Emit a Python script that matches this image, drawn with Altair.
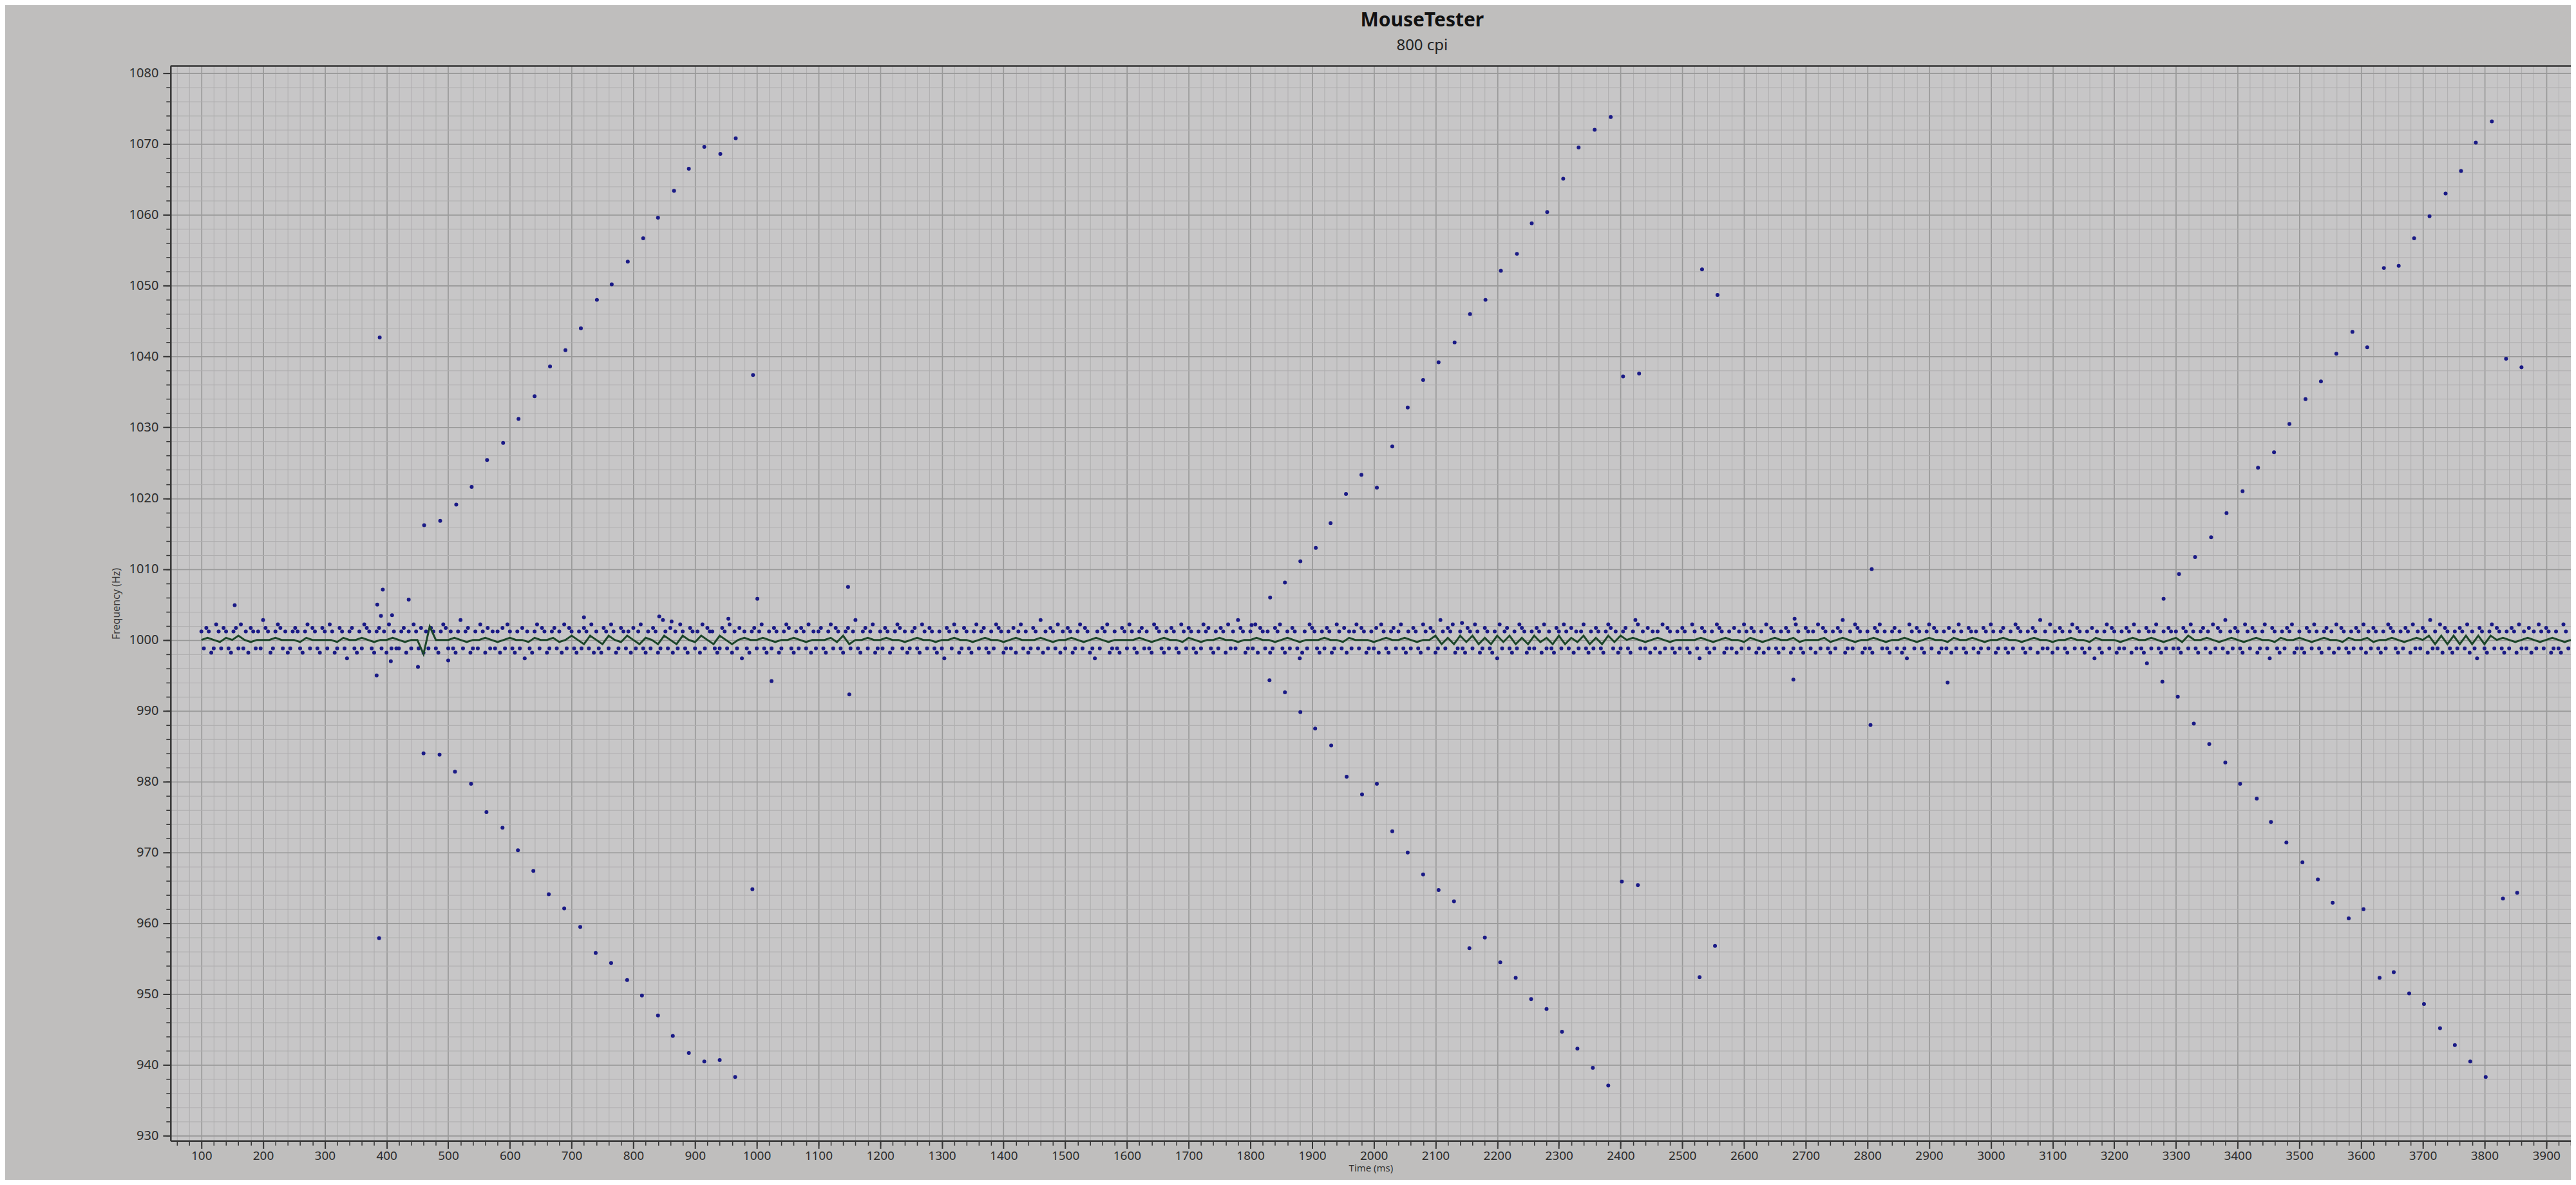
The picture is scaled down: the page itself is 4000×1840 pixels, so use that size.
import altair as alt
import pandas as pd

TITLE = "MouseTester"
SUBTITLE = "800 cpi"
X_TITLE = "Time (ms)"
Y_TITLE = "Frequency (Hz)"

X_DOMAIN = [50, 3940]
Y_DOMAIN = [929.3, 1081]
X_MAJOR = list(range(100, 4000, 100))
X_MINOR = list(range(60, 3941, 20))
Y_MAJOR = list(range(930, 1081, 10))
Y_MINOR = list(range(930, 1081, 2))

# ---- sparse diagonal (aliasing) points ----
left_up_t = [389, 461, 487, 513, 538, 563, 589, 614, 640, 665, 690, 715, 741, 765, 791, 816, 840, 866, 890, 915, 941, 966, 994]
left_up_f = [1042.7, 1016.2, 1016.8, 1019.1, 1021.6, 1025.4, 1027.8, 1031.2, 1034.4, 1038.6, 1040.9, 1044.0, 1048.0, 1050.2,
             1053.4, 1056.7, 1059.6, 1063.4, 1066.5, 1069.6, 1068.6, 1070.8, 1037.4]
left_down_t = [388, 460, 486, 511, 537, 562, 588, 613, 638, 663, 688, 714, 739, 764, 790, 814, 840, 864, 890, 915, 940, 965, 993]
left_down_f = [957.9, 984.0, 983.8, 981.4, 979.7, 975.7, 973.5, 970.3, 967.4, 964.1, 962.1, 959.5, 955.8, 954.4,
               952.0, 949.8, 947.0, 944.1, 941.7, 940.5, 940.7, 938.3, 964.8]

mid_up_t = [1832, 1856, 1881, 1906, 1930, 1955, 1980, 2005, 2030, 2055, 2080, 2105, 2131, 2156, 2181, 2206, 2232, 2256,
            2281, 2307, 2332, 2358, 2384, 2404, 2430, 2532, 2557]
mid_up_f = [1006.0, 1008.1, 1011.1, 1013.0, 1016.5, 1020.6, 1023.3, 1021.5, 1027.3, 1032.8, 1036.7, 1039.2, 1042.0, 1046.0,
            1048.0, 1052.1, 1054.5, 1058.8, 1060.4, 1065.1, 1069.5, 1072.0, 1073.8, 1037.2, 1037.6, 1052.3, 1048.7]
mid_down_t = [1831, 1856, 1881, 1905, 1931, 1956, 1981, 2005, 2030, 2055, 2080, 2105, 2130, 2155, 2180, 2205, 2230, 2255,
              2280, 2305, 2330, 2355, 2380, 2402, 2428, 2528, 2553]
mid_down_f = [994.3, 992.6, 989.8, 987.5, 985.1, 980.7, 978.2, 979.7, 973.0, 970.0, 966.9, 964.7, 963.1, 956.5,
              958.0, 954.5, 952.3, 949.3, 947.9, 944.7, 942.3, 939.6, 937.1, 965.9, 965.4, 952.4, 956.8]

right_up_t = [3280, 3305, 3331, 3357, 3382, 3408, 3433, 3459, 3484, 3510, 3535, 3560, 3586, 3610, 3637, 3661, 3686, 3711,
              3737, 3762, 3786, 3812, 3835, 3860]
right_up_f = [1005.8, 1009.3, 1011.7, 1014.5, 1017.9, 1021.0, 1024.3, 1026.5, 1030.5, 1034.0, 1036.5, 1040.4, 1043.5, 1041.3,
              1052.5, 1052.8, 1056.7, 1059.8, 1063.0, 1066.2, 1070.2, 1073.2, 1039.7, 1038.5]
right_down_t = [3253, 3278, 3303, 3329, 3354, 3380, 3404, 3431, 3454, 3479, 3505, 3530, 3554, 3580, 3604, 3630, 3653, 3678,
                3702, 3728, 3752, 3777, 3802, 3830, 3853]
right_down_f = [996.7, 994.1, 992.0, 988.2, 985.3, 982.7, 979.7, 977.6, 974.3, 971.4, 968.6, 966.2, 962.9, 960.7,
                962.0, 952.3, 953.1, 950.1, 948.6, 945.2, 942.8, 940.5, 938.3, 963.5, 964.3]

# isolated points just outside the main band
outlier_t = [154, 384, 385, 391, 394, 407, 409, 436, 451, 500, 720, 842, 862, 954, 1001, 1024, 1148, 1150,
             1802, 2143, 2680, 2682, 2805, 2807, 2930]
outlier_f = [1004.9, 995.0, 1005.0, 1003.4, 1007.1, 997.0, 1003.5, 1005.7, 996.2, 997.1, 1003.2, 1003.3, 1002.6,
             1003.0, 1005.8, 994.2, 1007.5, 992.3, 1002.1, 1002.4, 994.4, 1003.0, 988.0, 1010.0, 994.0]

# ---- dense band of samples around 1000 Hz (one code per 4 ms) ----
BAND_STEP = 4
BAND_LEVELS = {"a": 997.4, "b": 998.2, "c": 998.8, "d": 1001.2, "e": 1001.7, "f": 1002.2, "g": 1002.8}
band_segments = [
    (100, "dcedbcfdcedcbdecfcdbedcdcgedbcdfecdbcdedcbdfcedcbedcfdbcedcadecbdcfedcbdecdbfcdc"),
    (420, "cdebdcfdcebdcedcbdfecdcbdgcdebcdcfdbecdcdbecfdcbdceadcbdfcedbcdecdbfcedcbdcedcfb"),
    (740, "dcbedcfdbcedcdbecdfcbdcedbcgdcebdcfdcbedcdbfceddcbcedcfbdceadcbdecdfcbdcedbcdfec"),
    (1060, "bdcedcfbdcdecbdfcedcbdecdgcbdecdfbcdcedbcdfecdbcdecbfdcedcbdcaedcfdbcedcbdfcdecb"),
    (1380, "dcfedbcdcebdfcdbcedcgbdcedcfbdcedbcdfcedbcadcedfbcdcbedcfdcbdecdcbfedcbdcedcbfdc"),
    (1700, "edcbdcfdecbdcedbfcdcgedbcdcfbedcdbcedfcbdcedcabdcfedcbdcedbcfdcebdcdfcedbcdcebfd"),
    (2020, "cbdecdfcbdcedcbfdcedbcgdcedfbcdcbedcfdbcedcbdafcdecbdcfedbcdcedbfcdcbedcfdcebdcd"),
    (2340, "fcbdcedcbdfecdbcdecbdgfcdcebdcdbfcedcbdcedcbfdcaedcbdcfedbcdcebdcfdcedbcdbfcedcb"),
    (2660, "dcedbcfdcbedcdbfcedcbdcedgbcdcfedbcdcbedfcdcbdecdbcafdcedcbdfcedbcdcebdcfdcbedcd"),
    (2980, "bcedcfdbcdecbdcfedcbdcedbgcdcfbdcedcbdfcedcbdceadcbdfcedbcdcedbfcdcbedcdfcbdcedc"),
    (3300, "dcbedcfdcbdecdbfcedcgbdcedcbfdcedbcdfcaedcbdcedfbcdcbedcfdcbdecdbfcedcbdcedcfbdc"),
    (3620, "edcbdcfedcbdcedbfcdcedbgcdcfbedcbdcedcfbdcaedcbdfcedcbdcedbfcdcebdcfdcedbcdcbfdc"),
]

# ---- green running line (one code per 10 ms) ----
LINE_STEP = 10
LINE_LEVELS = {"8": 998.0, "0": 999.0, "1": 999.4, "2": 999.7, "3": 1000.0, "4": 1000.3,
               "5": 1000.6, "6": 1001.0, "7": 1001.9}
line_segments = [
    (100, "3432435323" "3343332433" "3324334323" "3432338733"),
    (500, "34323343234332433423"),
    (700, "531531532531431531532531531343"),
    (1000, "3432334323" "3342513343"),
    (1200, "3433234332" "3343323433" "2343334323" "3432343233" "3343234332"
           "4323343323" "3433234323" "3343324333" "2343343233"),
    (2100, "5141525141525141524151425141525"),
    (2410, "3432343233" "3343234332" "4323433423" "3342343233" "4323343234"
           "3324334323" "3433234332" "3343324333" "234334323"),
    (3300, "4253"),
    (3340, "3432343234" "3324334323" "4332433423" "3432343"),
    (3710, "51515151515"),
    (3820, "3432343234323"),
]

# ---- build tables ----
pts_t, pts_f = [], []
for start, codes in band_segments:
    for i, ch in enumerate(codes):
        if ch in BAND_LEVELS:
            pts_t.append(start + BAND_STEP * i)
            pts_f.append(BAND_LEVELS[ch])
for ts, fs in [(left_up_t, left_up_f), (left_down_t, left_down_f), (mid_up_t, mid_up_f),
               (mid_down_t, mid_down_f), (right_up_t, right_up_f), (right_down_t, right_down_f),
               (outlier_t, outlier_f)]:
    pts_t.extend(ts)
    pts_f.extend(fs)
points_df = pd.DataFrame({"t": pts_t, "f": pts_f})

ln_t, ln_f = [], []
for start, codes in line_segments:
    for i, ch in enumerate(codes):
        ln_t.append(start + LINE_STEP * i)
        ln_f.append(LINE_LEVELS[ch])
line_df = pd.DataFrame({"t": ln_t, "f": ln_f})
top_df = pd.DataFrame({"f": [Y_DOMAIN[1]]})

FONT = "Noto Sans"
BG = "#bfbebd"
PLOT_BG = "#c7c6c7"
MAJOR_GRID = "#999999"
MINOR_GRID = "#afaeaf"
AXIS_COL = "#353535"
DOT = "#1a1a86"
LINE_COL = "#1b4529"

xs = alt.Scale(domain=X_DOMAIN, nice=False, zero=False)
ys = alt.Scale(domain=Y_DOMAIN, nice=False, zero=False)

minor_layer = alt.Chart(line_df).mark_line(opacity=0).encode(
    x=alt.X("t:Q", scale=xs, axis=alt.Axis(orient="bottom", values=X_MINOR, labels=False, title=None,
                                           domain=False, grid=True, gridColor=MINOR_GRID, gridWidth=1,
                                           tickSize=7, tickColor=AXIS_COL, tickWidth=1.5)),
    y=alt.Y("f:Q", scale=ys, axis=alt.Axis(orient="left", values=Y_MINOR, labels=False, title=None,
                                           domain=False, grid=True, gridColor=MINOR_GRID, gridWidth=1,
                                           tickSize=7, tickColor=AXIS_COL, tickWidth=1.5)),
)

points_layer = alt.Chart(points_df).mark_circle(size=36, opacity=1, color=DOT).encode(
    x=alt.X("t:Q", scale=xs, axis=alt.Axis(orient="bottom", values=X_MAJOR, format="d", title=X_TITLE,
                                           grid=True, gridColor=MAJOR_GRID, gridWidth=1.6, tickSize=12,
                                           tickColor=AXIS_COL, tickWidth=2, domainColor=AXIS_COL,
                                           domainWidth=2.5, labelFont=FONT, labelFontSize=19,
                                           labelColor="#2c2c2c", labelPadding=2, titleFont=FONT,
                                           titleFontSize=15, titleFontWeight="normal",
                                           titleColor="#333333", titlePadding=2)),
    y=alt.Y("f:Q", scale=ys, axis=alt.Axis(orient="left", values=Y_MAJOR, format="d", title=Y_TITLE,
                                           grid=True, gridColor=MAJOR_GRID, gridWidth=1.6, tickSize=12,
                                           tickColor=AXIS_COL, tickWidth=2, domainColor=AXIS_COL,
                                           domainWidth=2.5, labelFont=FONT, labelFontSize=20,
                                           labelColor="#2c2c2c", labelPadding=7, titleFont=FONT,
                                           titleFontSize=16, titleFontWeight="normal",
                                           titleColor="#3a3a3a", titlePadding=12)),
)

line_layer = alt.Chart(line_df).mark_line(color=LINE_COL, strokeWidth=3).encode(
    x=alt.X("t:Q", scale=xs, axis=None),
    y=alt.Y("f:Q", scale=ys, axis=None),
)

top_layer = alt.Chart(top_df).mark_rule(color=AXIS_COL, strokeWidth=2.5).encode(
    y=alt.Y("f:Q", scale=ys, axis=None),
)

chart = alt.layer(minor_layer, points_layer, line_layer, top_layer).resolve_axis(
    x="independent", y="independent"
).properties(
    width=3730,
    height=1670,
    padding={"left": 257, "top": 94, "right": 0, "bottom": 60},
    autosize=alt.AutoSizeParams(type="none"),
    title=alt.TitleParams(text=TITLE, subtitle=SUBTITLE, anchor="middle", dx=80, offset=18,
                          font=FONT, fontSize=30, fontWeight="bold", color="#111111",
                          subtitleFont=FONT, subtitleFontSize=24, subtitleColor="#222222",
                          subtitlePadding=12),
).configure(background=BG).configure_view(fill=PLOT_BG, stroke=None)

chart.save("out.html", embed_options={"renderer": "svg", "actions": False})
